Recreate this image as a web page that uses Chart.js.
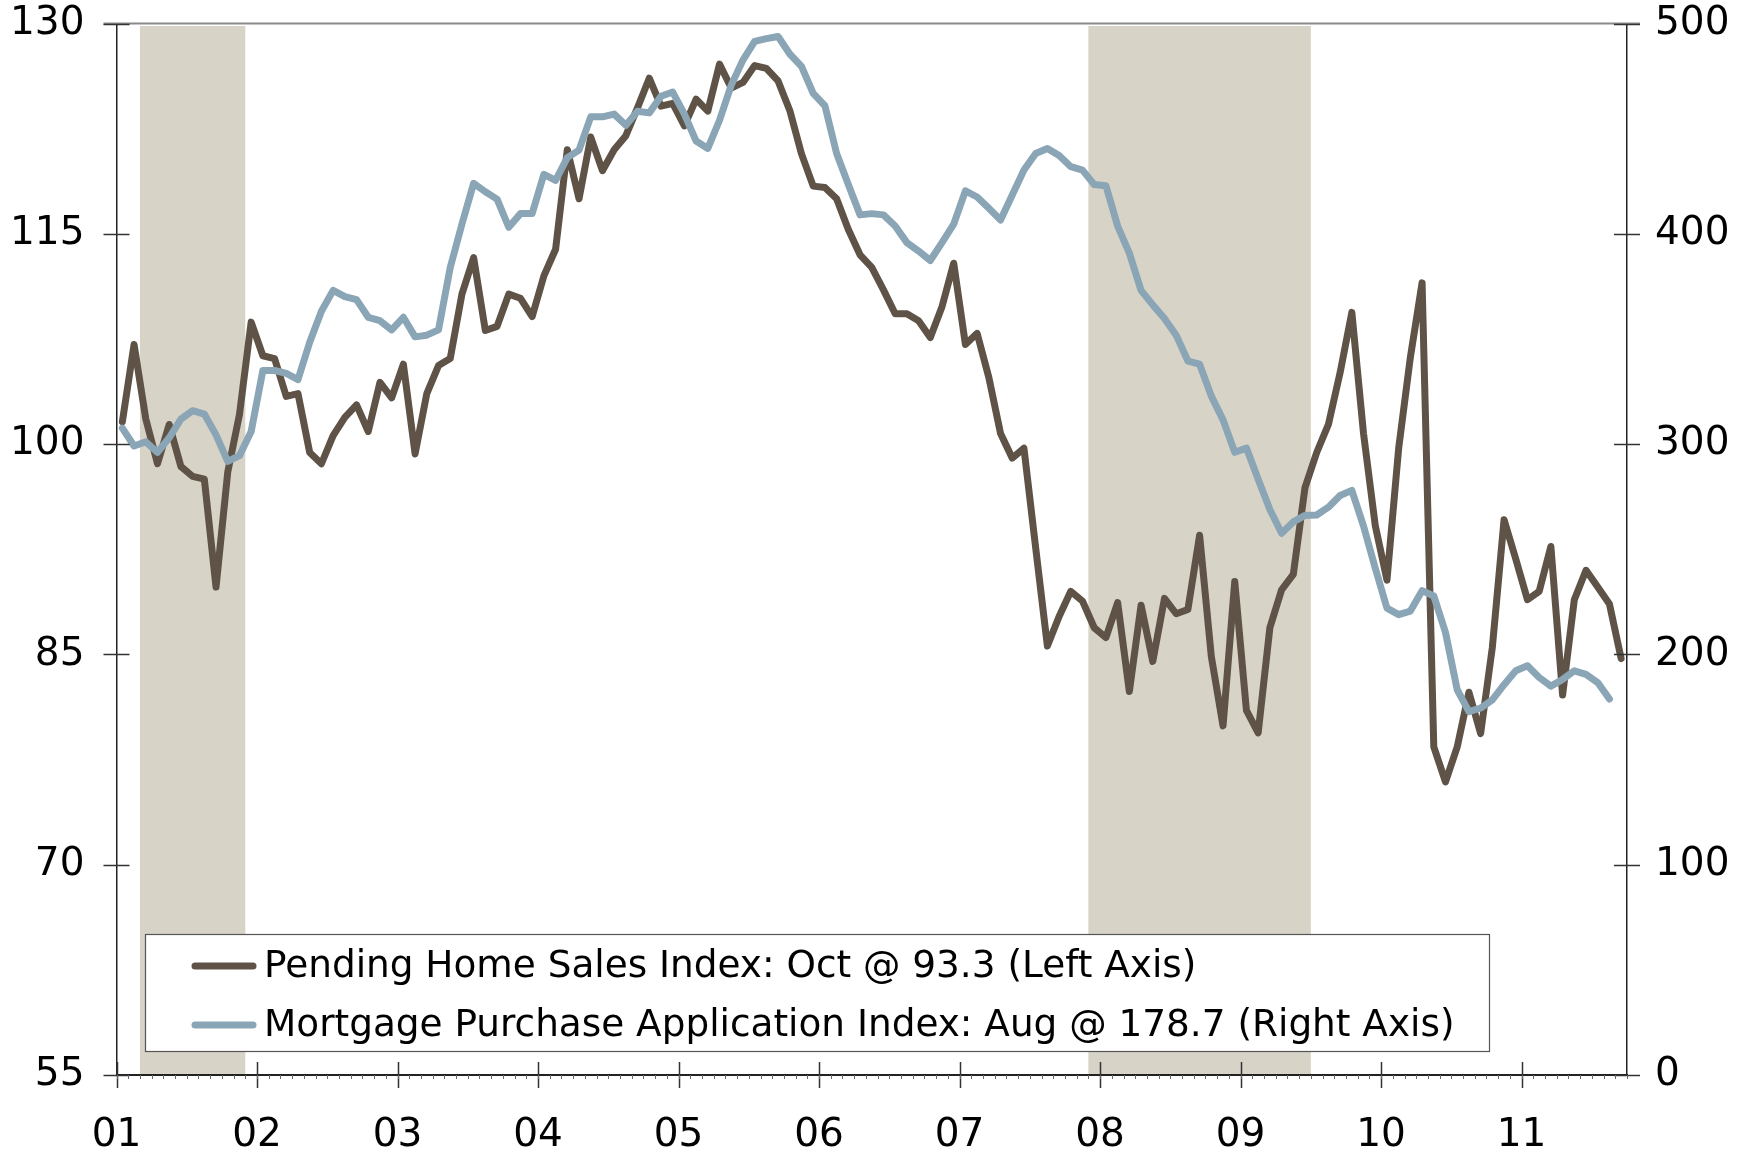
<!DOCTYPE html>
<html>
<head>
<meta charset="utf-8">
<script src="https://cdn.jsdelivr.net/npm/chart.js@4.4.1/dist/chart.umd.min.js"></script>
<style>
html,body{margin:0;padding:0;background:#fff;}
#wrap{width:1754px;height:1155px;position:relative;}
</style>
</head>
<body>
<div id="wrap"><canvas id="c"></canvas></div>
<script>
// ---------------- data ----------------
const firstYear = 2001;
const yearLabels = ['01','02','03','04','05','06','07','08','09','10','11'];
const leftTicks = [55, 70, 85, 100, 115, 130];
const rightTicks = [0, 100, 200, 300, 400, 500];
const recessions = [['2001-03','2001-11'], ['2007-12','2009-06']];
const seriesNames = [
  'Pending Home Sales Index: Oct @ 93.3 (Left Axis)',
  'Mortgage Purchase Application Index: Aug @ 178.7 (Right Axis)'
];
// monthly, starting Jan 2001
const pendingHomeSales = [
  101.6,107.1,101.8,98.6,101.4,98.4,97.7,97.5,89.8,98.0,102.1,108.7,
  106.3,106.1,103.4,103.6,99.4,98.6,100.6,101.9,102.8,100.9,104.4,103.3,
  105.7,99.3,103.6,105.6,106.1,110.7,113.3,108.1,108.4,110.7,110.4,109.1,
  112.0,113.9,121.0,117.5,121.9,119.5,121.0,122.0,124.0,126.1,124.1,124.3,
  122.7,124.6,123.75,127.1,125.4,125.8,127.0,126.8,125.9,123.8,120.7,118.4,
  118.3,117.5,115.3,113.5,112.6,111.0,109.3,109.3,108.8,107.6,109.8,112.9,
  107.1,107.9,104.75,100.75,99.0,99.7,92.6,85.6,87.7,89.5,88.8,86.9,
  86.2,88.7,82.35,88.5,84.5,89.0,87.9,88.2,93.5,84.85,79.9,90.2,
  81.0,79.4,86.9,89.6,90.7,96.9,99.4,101.4,105.1,109.4,100.75,94.2,
  90.3,99.7,106.2,111.5,78.4,75.9,78.4,82.3,79.35,85.5,94.6,91.8,
  88.9,89.5,92.7,82.1,88.9,91.0,89.8,88.6,84.7
];
const mortgagePurchase = [
  307.6,299.1,301.1,296.1,303.0,311.9,315.9,314.3,304.4,291.8,294.5,306.0,
  335.0,335.0,333.6,330.7,348.4,363.2,373.1,370.1,368.7,360.3,358.7,354.3,
  360.3,351.0,351.8,354.3,383.9,404.6,424.0,420.0,416.5,403.1,409.6,409.6,
  428.3,425.4,436.2,439.8,455.6,455.6,456.9,451.6,458.3,457.5,465.4,467.4,
  456.9,444.1,440.6,454.0,470.7,482.6,491.5,492.8,493.8,485.5,479.6,466.8,
  460.9,438.2,423.4,409.0,409.6,409.0,403.7,395.8,391.8,387.3,395.8,404.6,
  420.4,417.5,412.1,406.6,418.5,430.3,438.2,440.6,437.2,431.9,430.3,423.4,
  422.8,403.7,390.8,373.1,366.2,359.7,351.8,339.5,338.0,322.8,311.5,296.1,
  298.1,283.3,268.9,257.6,263.0,266.1,266.3,270.0,275.6,278.0,261.0,241.0,
  222.0,218.9,220.6,230.3,227.8,210.4,183.2,172.8,174.5,178.4,185.6,192.2,
  194.6,189.0,184.9,188.1,192.2,190.5,186.6,178.8
];

// ---------------- styling ----------------
const BROWN = '#5E5346';
const BLUE = '#8AA5B5';
const BAND = '#D7D3C7';
const FONT = "'DejaVu Sans', Verdana, sans-serif";
const LINE_W = 7;

function monthIndex(s){ const [y,m] = s.split('-').map(Number); return (y-firstYear)*12 + (m-1); }
const toPoints = arr => arr.map((v,i)=>({x:i+0.5, y:v}));

const decor = {
  id:'decor',
  beforeDatasetsDraw(chart){
    const {ctx, chartArea:a, scales:{x}} = chart;
    ctx.save();
    ctx.fillStyle = BAND;
    recessions.forEach(([s,e])=>{
      const x0 = x.getPixelForValue(monthIndex(s));
      const x1 = x.getPixelForValue(monthIndex(e)+1);
      ctx.fillRect(x0, a.top+2.5, x1-x0, a.bottom-a.top-2.5);
    });
    ctx.restore();
  },
  afterDraw(chart){
    const {ctx, chartArea:a, scales:{x, y, y2}} = chart;
    ctx.save();
    // top border
    ctx.strokeStyle = '#8a8a8a'; ctx.lineWidth = 2;
    ctx.beginPath(); ctx.moveTo(a.left-13, a.top); ctx.lineTo(a.right+13, a.top); ctx.stroke();
    // major ticks crossing axes
    ctx.strokeStyle = '#333'; ctx.lineWidth = 1.5;
    ctx.beginPath();
    leftTicks.forEach(v=>{ const p = Math.round(y.getPixelForValue(v))+0.5; ctx.moveTo(a.left-13,p); ctx.lineTo(a.left+13,p); });
    rightTicks.forEach(v=>{ const p = Math.round(y2.getPixelForValue(v))+0.5; ctx.moveTo(a.right-13,p); ctx.lineTo(a.right+13,p); });
    yearLabels.forEach((_,i)=>{ const p = Math.round(x.getPixelForValue(i*12))+0.5; ctx.moveTo(p,a.bottom-13); ctx.lineTo(p,a.bottom+13); });
    ctx.stroke();
    // minor monthly ticks
    ctx.strokeStyle = '#666'; ctx.lineWidth = 1;
    ctx.beginPath();
    for(let m=0;m<=pendingHomeSales.length;m++){ const p = Math.round(x.getPixelForValue(m))+0.5; ctx.moveTo(p,a.bottom); ctx.lineTo(p,a.bottom+4); }
    ctx.stroke();
    // legend box
    const bx=145, by=934, bw=1344, bh=117;
    ctx.fillStyle='#fff'; ctx.fillRect(bx,by,bw,bh);
    ctx.strokeStyle='#555'; ctx.lineWidth=1.2; ctx.strokeRect(bx+0.5,by+0.5,bw,bh);
    const rows = [966, 1025];
    ctx.font = '37.4px ' + FONT; ctx.textBaseline='middle'; ctx.textAlign='left';
    chart.data.datasets.forEach((ds,i)=>{
      ctx.strokeStyle = ds.borderColor; ctx.lineWidth = LINE_W; ctx.lineCap='round';
      ctx.beginPath(); ctx.moveTo(195, rows[i]); ctx.lineTo(253, rows[i]); ctx.stroke();
      ctx.fillStyle = '#000';
      ctx.fillText(ds.label, 264, rows[i]+1);
    });
    ctx.restore();
  }
};

const tickFont = {family: FONT, size: 39};
const borderOpt = {display:true, color:'#222', width:2, z:1};
const fitY = w => s => { s.width = w; s.paddingTop = 0; s.paddingBottom = 0; };

new Chart(document.getElementById('c'), {
  type:'line',
  data:{
    datasets:[
      {label:seriesNames[0], data:toPoints(pendingHomeSales), yAxisID:'y', borderColor:BROWN, borderWidth:LINE_W,
       pointRadius:0, tension:0, borderJoinStyle:'round', borderCapStyle:'round', order:1},
      {label:seriesNames[1], data:toPoints(mortgagePurchase), yAxisID:'y2', borderColor:BLUE, borderWidth:LINE_W,
       pointRadius:0, tension:0, borderJoinStyle:'round', borderCapStyle:'round', order:0}
    ]
  },
  options:{
    responsive:true, maintainAspectRatio:false, animation:false,
    layout:{padding:{top:23.5, left:0, right:0, bottom:0}},
    plugins:{legend:{display:false}, tooltip:{enabled:false}},
    scales:{
      x:{
        type:'linear', min:0, max:pendingHomeSales.length,
        grid:{display:false, drawTicks:false},
        border:borderOpt,
        afterBuildTicks:s=>{ s.ticks = yearLabels.map((_,i)=>({value:i*12})); },
        ticks:{callback:v=>yearLabels[Math.round(v/12)], font:tickFont, color:'#000', padding:37, maxRotation:0, autoSkip:false},
        afterFit:s=>{ s.height = 80; s.paddingLeft = 0; s.paddingRight = 0; }
      },
      y:{
        position:'left', min:55, max:130,
        grid:{display:false, drawTicks:false},
        border:{display:true, color:'#222', width:1.5, z:1},
        afterBuildTicks:s=>{ s.ticks = leftTicks.map(v=>({value:v})); },
        ticks:{font:tickFont, color:'#000', padding:32},
        afterFit:fitY(116.5)
      },
      y2:{
        position:'right', min:0, max:500,
        grid:{display:false, drawTicks:false},
        border:{display:true, color:'#222', width:1.5, z:1},
        afterBuildTicks:s=>{ s.ticks = rightTicks.map(v=>({value:v})); },
        ticks:{font:tickFont, color:'#000', padding:28},
        afterFit:fitY(127)
      }
    }
  },
  plugins:[decor]
});
</script>
</body>
</html>
